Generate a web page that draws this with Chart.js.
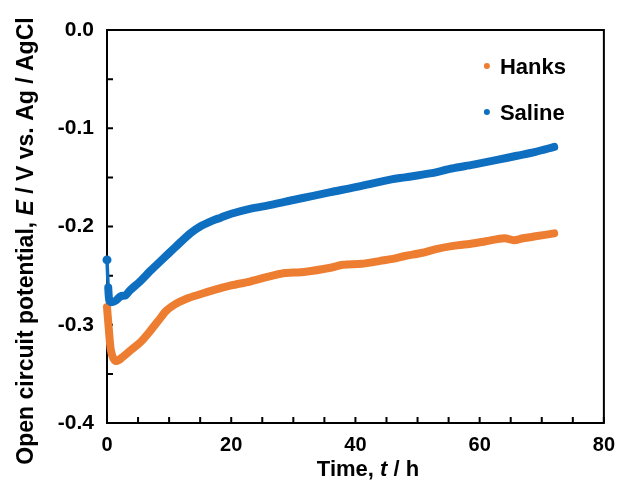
<!DOCTYPE html>
<html>
<head>
<meta charset="utf-8">
<script src="https://cdn.jsdelivr.net/npm/chart.js@4/dist/chart.umd.min.js"></script>
<style>
  body { margin: 0; background: #fff; }
  canvas { display: block; }
</style>
</head>
<body>
<canvas id="chart1" width="617" height="492"></canvas>
<script>
// readings (time in h, potential in V vs Ag/AgCl)
var hanksTime = [0, 0.3, 0.6, 1.0, 1.5, 2.5, 4, 5.5, 7, 8.5, 9.5, 11, 13, 15, 17, 20, 23, 26, 28, 32, 36, 38, 41, 44, 46, 48, 50.6, 53, 55.5, 58, 61, 64, 65.5, 67, 69, 72];
var hanksE = [-0.282, -0.305, -0.325, -0.334, -0.337, -0.333, -0.325, -0.317, -0.306, -0.294, -0.286, -0.279, -0.273, -0.269, -0.265, -0.260, -0.256, -0.251, -0.248, -0.246, -0.242, -0.239, -0.238, -0.235, -0.233, -0.230, -0.227, -0.223, -0.220, -0.218, -0.215, -0.212, -0.214, -0.212, -0.210, -0.207];

var salineTime = [0, 0.2, 0.4, 0.8, 1.5, 2.2, 3, 3.7, 5.3, 7, 9, 11, 13.4, 15, 17, 18.3, 20, 23, 26.4, 30, 33, 36, 40, 45.8, 48, 52, 55.5, 59, 63, 66, 69, 72];
var salineE = [-0.234, -0.262, -0.276, -0.277, -0.275, -0.271, -0.270, -0.265, -0.256, -0.245, -0.233, -0.221, -0.207, -0.200, -0.194, -0.191, -0.187, -0.182, -0.178, -0.173, -0.169, -0.165, -0.160, -0.152, -0.150, -0.146, -0.141, -0.137, -0.132, -0.128, -0.124, -0.119];

var seriesNames = ["Hanks", "Saline"];
var seriesColors = ["#ED7D31", "#0E6EBF"];

var xMin = 0, xMax = 80, xMinor = 5, xMajor = 20;
var yMin = -0.4, yMax = 0, yMinor = 0.05;

var FONT = '"Liberation Sans", Arial, sans-serif';

function toPoints(xs, ys) {
  var pts = [];
  for (let i = 0; i < xs.length; i++) {
    pts.push({ x: xs[i], y: ys[i] });
  }
  return pts;
}

// box round the plot and inward tick marks
var frameTicks = {
  id: 'frameTicks',
  beforeDatasetsDraw(chart) {
    let ctx = chart.ctx;
    let a = chart.chartArea;
    let xs = chart.scales.x, ys = chart.scales.y;
    ctx.save();
    ctx.strokeStyle = '#000';
    ctx.lineWidth = 2;
    ctx.strokeRect(a.left, a.top, a.right - a.left, a.bottom - a.top);
    ctx.beginPath();
    xs.ticks.forEach(function (t) {
      let px = xs.getPixelForValue(t.value);
      ctx.moveTo(px, a.bottom);
      ctx.lineTo(px, a.bottom - 6);
    });
    ys.ticks.forEach(function (t) {
      let py = ys.getPixelForValue(t.value);
      ctx.moveTo(a.left, py);
      ctx.lineTo(a.left + 6, py);
    });
    ctx.stroke();
    ctx.restore();
  }
};

function mixedWidth(ctx, parts, size) {
  let w = 0;
  parts.forEach(function (p) {
    ctx.font = (p[1] ? 'italic ' : '') + 'bold ' + size + 'px ' + FONT;
    w += ctx.measureText(p[0]).width;
  });
  return w;
}

function drawMixed(ctx, parts, x, y, size) {
  let cx = x - mixedWidth(ctx, parts, size) / 2;
  parts.forEach(function (p) {
    ctx.font = (p[1] ? 'italic ' : '') + 'bold ' + size + 'px ' + FONT;
    ctx.fillText(p[0], cx, y);
    cx += ctx.measureText(p[0]).width;
  });
}

// axis titles (with italic symbols) and the legend inside the plot
var titlesLegend = {
  id: 'titlesLegend',
  afterDraw(chart) {
    let ctx = chart.ctx;
    let a = chart.chartArea;
    ctx.save();
    ctx.fillStyle = '#000';
    ctx.textBaseline = 'alphabetic';
    ctx.textAlign = 'left';
    drawMixed(ctx, [["Time, ", false], ["t", true], [" / h", false]], 368, 476, 22);

    ctx.save();
    ctx.translate(33, 241);
    ctx.rotate(-Math.PI / 2);
    drawMixed(ctx, [["Open circuit potential, ", false], ["E", true], [" / V vs. Ag / AgCl", false]], 0, 0, 23);
    ctx.restore();

    ctx.textBaseline = 'middle';
    ctx.font = 'bold 22px ' + FONT;
    for (let i = 0; i < seriesNames.length; i++) {
      let yy = a.top + 37 + i * 46;
      ctx.fillStyle = seriesColors[i];
      ctx.beginPath();
      ctx.arc(a.right - 117, yy - 1, 3, 0, Math.PI * 2);
      ctx.fill();
      ctx.fillStyle = '#000';
      ctx.fillText(seriesNames[i], a.right - 104, yy + 1);
    }
    ctx.restore();
  }
};

var ctx = document.getElementById('chart1');
var myChart = new Chart(ctx, {
  type: 'scatter',
  data: {
    datasets: [{
      label: seriesNames[0],
      data: toPoints(hanksTime, hanksE),
      borderColor: seriesColors[0],
      backgroundColor: seriesColors[0],
      showLine: true,
      borderWidth: 8,
      borderCapStyle: 'round',
      borderJoinStyle: 'round',
      pointRadius: 0,
      tension: 0.3,
      clip: false,
      order: 1
    }, {
      label: seriesNames[1],
      data: toPoints(salineTime, salineE),
      borderColor: seriesColors[1],
      backgroundColor: seriesColors[1],
      showLine: true,
      borderWidth: 8,
      borderCapStyle: 'round',
      borderJoinStyle: 'round',
      pointRadius: function (c) { return c.dataIndex === 0 ? 4.5 : 0; },
      pointBorderWidth: 0,
      segment: {
        borderWidth: function (c) { return c.p0DataIndex === 0 ? 3.5 : undefined; }
      },
      tension: 0.3,
      clip: false,
      order: 0
    }]
  },
  options: {
    responsive: false,
    animation: false,
    events: [],
    layout: { padding: { left: 0, top: 30, right: 8, bottom: 0 } },
    plugins: {
      legend: { display: false },
      tooltip: { enabled: false }
    },
    scales: {
      x: {
        type: 'linear',
        min: xMin,
        max: xMax,
        grid: { display: false },
        border: { display: false },
        afterFit: function (s) { s.height = 69; },
        ticks: {
          stepSize: xMinor,
          autoSkip: false,
          maxRotation: 0,
          padding: 2,
          color: '#000',
          font: { family: FONT, size: 20, weight: 'bold' },
          callback: function (v) { return v % xMajor === 0 ? String(v) : ''; }
        }
      },
      y: {
        type: 'linear',
        min: yMin,
        max: yMax,
        grid: { display: false },
        border: { display: false },
        afterFit: function (s) { s.width = 107; },
        ticks: {
          stepSize: yMinor,
          autoSkip: false,
          padding: 5,
          color: '#000',
          font: { family: FONT, size: 21, weight: 'bold' },
          callback: function (v) {
            return Math.abs(v * 10 - Math.round(v * 10)) < 1e-6 ? v.toFixed(1) : '';
          }
        }
      }
    }
  },
  plugins: [frameTicks, titlesLegend]
});
</script>
</body>
</html>
